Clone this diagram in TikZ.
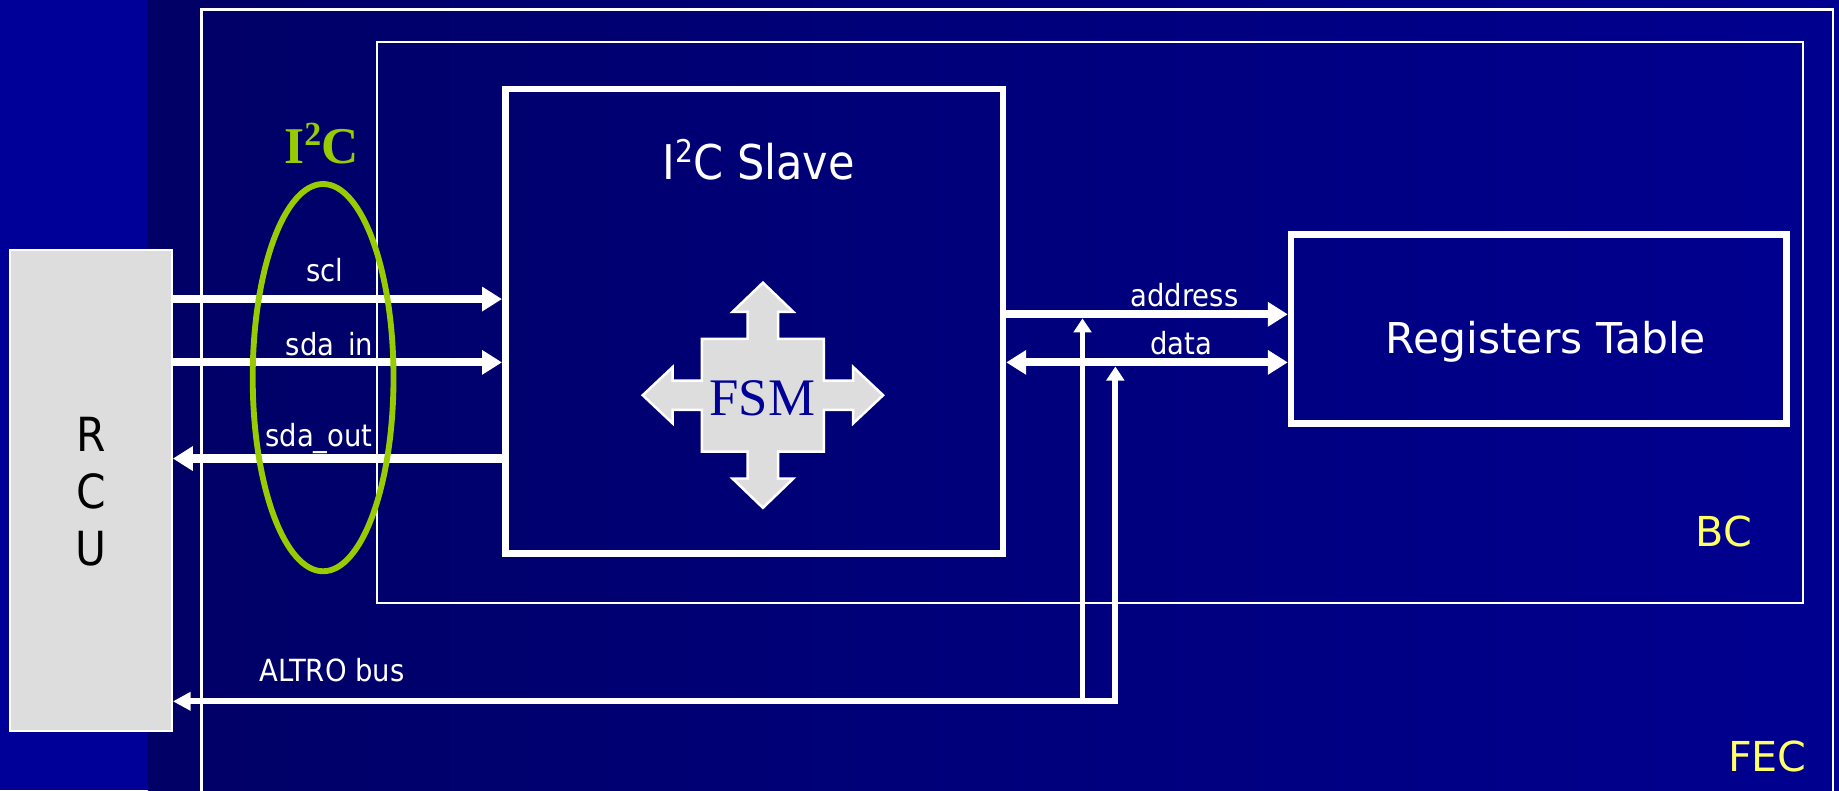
\documentclass[tikz,border=0pt]{standalone}
\usepackage{fontspec}
\setmainfont{DejaVu Sans}
\newfontfamily\condfont{DejaVu Sans Condensed}
\newfontfamily\timesfont{Liberation Serif}
\usetikzlibrary{arrows.meta,shapes.geometric}
\definecolor{bgdark}{HTML}{000066}
\definecolor{bgright}{HTML}{000090}
\definecolor{bgstrip}{HTML}{000099}
\definecolor{ringgreen}{HTML}{99CC00}
\definecolor{labelyellow}{HTML}{FFFF66}
\definecolor{boxgrey}{HTML}{DDDDDD}
\definecolor{fsmblue}{HTML}{000099}
\begin{document}
\begin{tikzpicture}[x=0.01cm,y=-0.01cm,
  thinframe/.style={draw=white,line width=0.6pt},
  thickbox/.style={draw=white,line width=0.057cm,inner sep=0pt},
  bighead/.style={-{Triangle[length=0.17cm,width=0.2cm]}},
  sig/.style={draw=white,line width=0.07cm},
  bus/.style={draw=white,line width=0.05cm,line join=miter},
  smalllbl/.style={text=white,font=\condfont\fontsize{7.4}{9}\selectfont,inner sep=0pt,anchor=base},
  midlbl/.style={text=white,font=\condfont\fontsize{11.6}{14}\selectfont,inner sep=0pt,anchor=base},
  widelbl/.style={font=\fontsize{10}{12}\selectfont,inner sep=0pt,anchor=base},
  rculbl/.style={text=black,font=\condfont\fontsize{11.4}{14}\selectfont,inner sep=0pt,anchor=base},
]
\useasboundingbox (0,0) rectangle (1568,674);
% background
\fill[bgstrip] (0,0) rectangle (126,674);
\shade[left color=bgdark,right color=bgright] (126,0) rectangle (1568,674);

% FEC frame (open at the bottom)
\draw[thinframe] (172,690) -- (172,8) -- (1563,8) -- (1563,690);
\node[widelbl,text=labelyellow] (feclbl) at (1507,658) {FEC};

% BC frame
\node[thinframe,minimum width=12.15cm,minimum height=4.78cm,inner sep=0pt] (bc) at (929.5,275) {};
\node[widelbl,text=labelyellow] (bclbl) at (1470,466) {BC};

% I2C slave box
\node[thickbox,minimum width=4.24cm,minimum height=3.96cm] (slave) at (643,274) {};
\node[midlbl] (slavelbl) at (647,153) {I\raisebox{0.36em}{\fontsize{7.6}{8}\selectfont 2}C Slave};

% Registers table
\node[thickbox,minimum width=4.22cm,minimum height=1.61cm] (regs) at (1312,280.5) {};
\node[widelbl,text=white,font=\fontsize{10.3}{12}\selectfont] (regslbl) at (1318,301) {Registers Table};

% RCU
\node[fill=boxgrey,draw=white,line width=0.5pt,minimum width=1.38cm,minimum height=4.10cm,inner sep=0pt] (rcu) at (77.5,418) {};
\node[rculbl] (rcuR) at (78,385) {R};
\node[rculbl] (rcuC) at (78,434) {C};
\node[rculbl] (rcuU) at (78,482) {U};

% FSM cross
\begin{scope}[shift={(650.5,337)}]
\filldraw[fill=boxgrey,draw=white,line width=0.6pt,line join=miter]
  (0,-96) -- (26,-71) -- (13,-71) -- (13,-48) -- (52,-48) -- (52,-12.5) -- (77,-12.5) -- (77,-24)
  -- (102.5,0) -- (77,24) -- (77,12.5) -- (52,12.5) -- (52,48) -- (13,48) -- (13,71) -- (26,71)
  -- (0,96) -- (-26,71) -- (-13,71) -- (-13,48) -- (-52,48) -- (-52,12.5) -- (-77,12.5) -- (-77,24)
  -- (-102.5,0) -- (-77,-24) -- (-77,-12.5) -- (-52,-12.5) -- (-52,-48) -- (-13,-48) -- (-13,-71) -- (-26,-71) -- cycle;
\end{scope}
\node[text=fsmblue,font=\timesfont\fontsize{12.8}{15}\selectfont,inner sep=0pt,anchor=base] (fsm) at (650,354) {FSM};

% signal rows
\coordinate (ySCL) at (0,255);
\coordinate (ySDAIN) at (0,309);
\coordinate (ySDAOUT) at (0,391);
\coordinate (yADDR) at (0,268);
\coordinate (yDATA) at (0,309);
\coordinate (busL) at (923,600);
\coordinate (busR) at (951,598);
\coordinate (addrHit) at (923,271.5);
\coordinate (dataHit) at (951,312.5);

\draw[sig,bighead] (rcu.east |- ySCL) -- (slave.west |- ySCL);
\draw[sig,bighead] (rcu.east |- ySDAIN) -- (slave.west |- ySDAIN);
\draw[sig,bighead] (slave.west |- ySDAOUT) -- (rcu.east |- ySDAOUT);
\draw[sig,bighead] (slave.east |- yADDR) -- (regs.west |- yADDR);
\draw[sig,{Triangle[length=0.17cm,width=0.2cm]}-{Triangle[length=0.17cm,width=0.2cm]}] (slave.east |- yDATA) -- (regs.west |- yDATA);

% ALTRO bus
\draw[bus,-{Triangle[length=0.12cm,width=0.15cm]}] (busL) -- (addrHit);
\draw[bus,{Triangle[length=0.12cm,width=0.15cm]}-{Triangle[length=0.15cm,width=0.15cm]}] (dataHit) -- (busR) -- (rcu.east |- busR);

% I2C ring
\node[ellipse,draw=ringgreen,line width=0.05cm,minimum width=1.2cm,minimum height=3.3cm,inner sep=0pt] (ring) at (275.5,322) {};
\node[text=ringgreen,font=\timesfont\bfseries\fontsize{12.5}{15}\selectfont,inner sep=0pt,anchor=base] (ringlbl) at (274,139) {I\raisebox{0.33em}{\fontsize{8.2}{9}\selectfont 2}C};

% labels
\node[smalllbl] (lscl) at (277,240) {scl};
\node[smalllbl] (lsdain) at (281,303) {sda\_in};
\node[smalllbl] (lsdaout) at (272,381) {sda\_out};
\node[smalllbl] (laddr) at (1010,261) {address};
\node[smalllbl] (ldata) at (1007,302) {data};
\node[smalllbl] (laltro) at (283,581) {ALTRO bus};
\end{tikzpicture}
\end{document}
